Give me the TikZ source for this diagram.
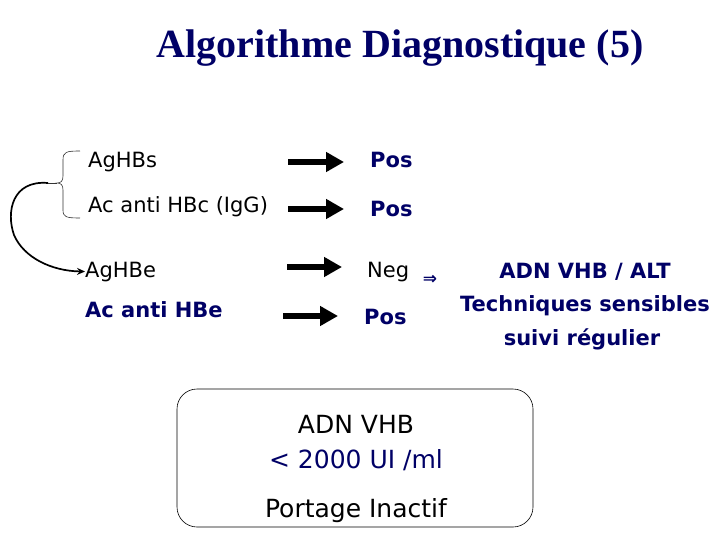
\documentclass[tikz,border=0pt]{standalone}
\usepackage{fontspec}
\setmainfont{Liberation Serif}
\newfontfamily\tahfont{DejaVu Sans}
\usepackage{xcolor}
\usetikzlibrary{arrows.meta,positioning,calc}
\definecolor{navy}{RGB}{0,0,102}

\tikzset{
  lbl/.style={anchor=base west,inner sep=0pt,font=\tahfont\fontsize{21}{24}\selectfont},
  lblb/.style={lbl,text=navy,font=\tahfont\bfseries\fontsize{21}{24}\selectfont},
  res/.style={lblb},
  note/.style={anchor=base,inner sep=0pt,text=navy,font=\tahfont\bfseries\fontsize{21}{24}\selectfont},
  boxtxt/.style={anchor=base,inner sep=0pt,font=\tahfont\fontsize{25}{28}\selectfont},
  bigarrow/.style={line width=6.5pt,-{Triangle[length=18pt,width=19pt]}},
}

\begin{document}
\begin{tikzpicture}[x=1pt,y=-1pt]
\useasboundingbox (0,0) rectangle (720,540);

% Title
\node[anchor=base,inner sep=0pt,text=navy,font=\bfseries\fontsize{40}{44}\selectfont] (title) at (400,58) {Algorithme Diagnostique (5)};

% Markers
\node[lbl] (l1) at (88,168) {AgHBs};
\node[lbl] (l2) at (88,212) {Ac anti HBc (IgG)};
\node[lbl] (l3) at (85,277) {AgHBe};
\node[lblb] (l4) at (85,317) {Ac anti HBe};

% Results
\node[res] (r1) at (370,168) {Pos};
\node[res] (r2) at (370,216) {Pos};
\node[lbl] (r3) at (367,277) {Neg};
\node[res] (r4) at (364,324) {Pos};

% Big arrows
\coordinate (a1s) at (288,162); \coordinate (a1e) at (344,162);
\coordinate (a2s) at (288,209); \coordinate (a2e) at (344,209);
\coordinate (a3s) at (287,267); \coordinate (a3e) at (342,267);
\coordinate (a4s) at (283,316); \coordinate (a4e) at (338,316);
\draw[bigarrow] (a1s) -- (a1e);
\draw[bigarrow] (a2s) -- (a2e);
\draw[bigarrow] (a3s) -- (a3e);
\draw[bigarrow] (a4s) -- (a4e);

% Brace and link to AgHBe
\coordinate (brc) at (57,183);
\coordinate (bre) at (48,183);
\draw[line width=0.6pt,black!80] (80,151) .. controls (66,151) and (63,152) .. (63,160)
  -- (63,176) .. controls (63,181) and (61,183) .. (brc)
  .. controls (61,183) and (63,185) .. (63,190) -- (63,210)
  .. controls (63,217) and (66,218) .. (80,218);
\draw[line width=0.6pt,black!80] (brc) -- (bre);
\draw[line width=1.7pt,-{Stealth[length=8pt,width=7pt]}] (bre) .. controls (12,180) and (6,212) .. (14,235)
  .. controls (24,258) and (52,271) .. (l3.west);

% Conclusion
\node[anchor=center,inner sep=0pt,text=navy,font=\tahfont\bfseries\fontsize{17}{17}\selectfont] (imp) at (430,280) {⇒};
\node[note] (n1) at (585,278) {ADN VHB / ALT};
\node[note] (n2) at (585,311) {Techniques sensibles};
\node[note] (n3) at (582,345) {suivi régulier};

% Box
\node[draw,rounded corners=20pt,minimum width=356pt,minimum height=138pt,line width=0.6pt] (box) at (355,458) {};
\node[boxtxt] (b1) at (356,433) {ADN VHB};
\node[boxtxt,text=navy] (b2) at (356,468) {< 2000 UI /ml};
\node[boxtxt] (b3) at (356,517) {Portage Inactif};
\end{tikzpicture}
\end{document}
